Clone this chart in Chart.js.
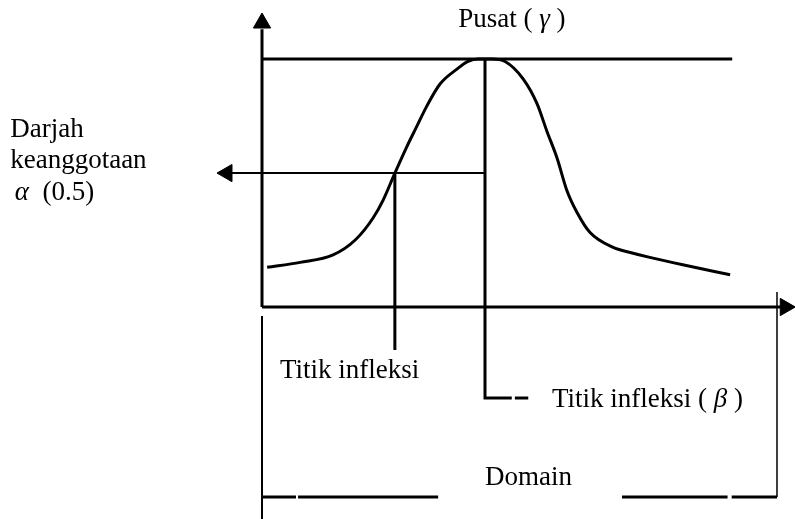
<!DOCTYPE html>
<html>
<head>
<meta charset="utf-8">
<script src="https://cdn.jsdelivr.net/npm/chart.js@4/dist/chart.umd.min.js"></script>
<style>
  body { margin: 0; background: #fff; }
  canvas { display: block; }
</style>
</head>
<body>
<canvas id="bellChart" width="795" height="519"></canvas>
<script>
// membership curve (domain 0..100, degree 0..1)
const curveX = [1, 7.4, 13.8, 18.1, 21.6, 23.5, 25.8, 28.2, 30.1, 32.0, 34.6, 37.9, 40.0, 42.0, 44.6, 47.2, 50.7, 53.4, 55.3, 57.3, 59.2, 61.2, 63.7, 68.2, 71.5, 75.3, 81.7, 90.9];
const curveY = [0.16, 0.18, 0.21, 0.27, 0.36, 0.43, 0.54, 0.65, 0.73, 0.81, 0.90, 0.96, 0.99, 1.0, 1.0, 0.99, 0.92, 0.82, 0.71, 0.60, 0.47, 0.38, 0.30, 0.24, 0.22, 0.20, 0.17, 0.13];

// key points of the diagram
const centre = 43.3;      // Pusat (gamma)
const inflection = 25.8;  // Titik infleksi
const alpha = 0.54;       // Darjah keanggotaan (0.5)
const domain = [0, 100];
const topLine = 91.3;     // where the degree = 1 line stops

// layout only (how far the guide lines reach)
const xAxisEnd = 101;
const yAxisEnd = 1.12;
const centreDrop = -0.367;
const inflectionDrop = -0.173;
const domainLevel = -0.766;

function seg(points) {
    return points.map(p => ({ x: p[0], y: p[1] }));
}

function line(points, width) {
    return {
        type: 'line',
        data: seg(points),
        borderColor: '#000',
        borderWidth: width,
        pointRadius: 0,
        tension: 0
    };
}

function arrow(x, y, rot) {
    return {
        type: 'scatter',
        data: [{ x: x, y: y }],
        pointStyle: 'triangle',
        rotation: rot,
        pointRadius: 10,
        backgroundColor: '#000',
        borderColor: '#000',
        borderWidth: 1
    };
}

const labels = [
    { x: 38.1, y: 1.129, parts: [['Pusat', false], [' ( ', false], ['γ', true], [' )', false]] },
    { x: -48.9, y: 0.685, parts: [['Darjah', false]] },
    { x: -48.9, y: 0.56, parts: [['keanggotaan', false]] },
    { x: -48.0, y: 0.43, parts: [['α', true], ['  (0.5)', false]] },
    { x: 3.5, y: -0.286, parts: [['Titik infleksi', false]] },
    { x: 56.3, y: -0.403, parts: [['Titik infleksi ( ', false], ['β', true], [' )', false]] },
    { x: 43.3, y: -0.718, parts: [['Domain', false]] }
];

const labelPlugin = {
    id: 'diagramLabels',
    afterDatasetsDraw(chart) {
        const ctx = chart.ctx;
        const xs = chart.scales.x;
        const ys = chart.scales.y;
        ctx.save();
        ctx.fillStyle = '#000';
        ctx.textBaseline = 'alphabetic';
        labels.forEach(l => {
            let px = xs.getPixelForValue(l.x);
            const py = ys.getPixelForValue(l.y);
            l.parts.forEach(p => {
                ctx.font = (p[1] ? 'italic ' : '') + '27px "Liberation Serif"';
                ctx.fillText(p[0], px, py);
                px += ctx.measureText(p[0]).width;
            });
        });
        ctx.restore();
    }
};

const datasets = [
    // axes
    line([[0, 0], [0, yAxisEnd]], 3),
    line([[0, 0], [xAxisEnd, 0]], 3),
    // degree = 1
    line([[0, 1], [topLine, 1]], 3),
    // alpha level arrow
    line([[centre, alpha], [-6, alpha]], 2),
    // centre drop line
    line([[centre, 1], [centre, centreDrop], [48.5, centreDrop]], 3),
    line([[49.1, centreDrop], [51.7, centreDrop]], 3),
    // inflection drop line
    line([[inflection, alpha], [inflection, inflectionDrop]], 3),
    // domain bracket
    line([[domain[0], -0.036], [domain[0], -0.86]], 2),
    line([[domain[1], 0.06], [domain[1], domainLevel]], 1.5),
    line([[domain[0], domainLevel], [6.6, domainLevel]], 3),
    line([[7.0, domainLevel], [34.2, domainLevel]], 3),
    line([[69.9, domainLevel], [90.4, domainLevel]], 3),
    line([[91.2, domainLevel], [domain[1], domainLevel]], 3),
    // arrow heads
    arrow(0, 1.145, 0),
    arrow(101.6, 0, 90),
    arrow(-6.8, alpha, -90),
    // the bell curve
    {
        type: 'line',
        data: curveX.map((x, i) => ({ x: x, y: curveY[i] })),
        borderColor: '#000',
        borderWidth: 3,
        pointRadius: 0,
        cubicInterpolationMode: 'monotone'
    }
];

// the arrow points make Chart.js keep 11px round the plot area,
// so the ranges are set to put 0/100 and 0/1 where the picture has them
new Chart(document.getElementById('bellChart'), {
    type: 'line',
    data: { datasets: datasets },
    options: {
        responsive: false,
        animation: false,
        events: [],
        layout: { padding: 0 },
        datasets: { line: { clip: false }, scatter: { clip: false } },
        plugins: {
            legend: { display: false },
            tooltip: { enabled: false },
            title: { display: false }
        },
        scales: {
            x: { type: 'linear', display: false, min: -48.74, max: 101.36 },
            y: { type: 'linear', display: false, min: -0.8105, max: 1.1935 }
        }
    },
    plugins: [labelPlugin]
});
</script>
</body>
</html>
